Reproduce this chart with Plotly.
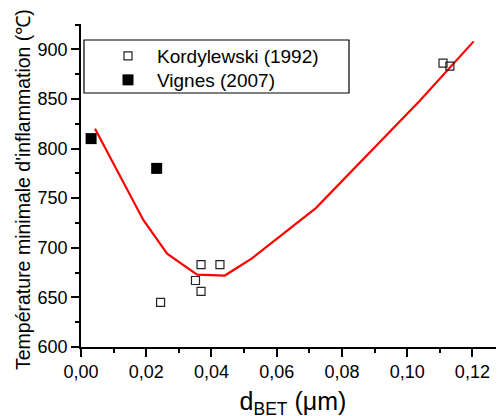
import plotly.graph_objects as go

# Kordylewski (1992) - open squares
kord_x = [0.0244, 0.0351, 0.0368, 0.0368, 0.0426, 0.1110, 0.1131]
kord_y = [645, 667, 683, 656, 683, 886, 883]

# Vignes (2007) - filled squares
vig_x = [0.0031, 0.0232]
vig_y = [810, 780]

# model curve (red line)
model_x = [0.0043, 0.0191, 0.0264, 0.0356, 0.0441, 0.0523, 0.0720, 0.0855, 0.1038, 0.1204]
model_y = [820, 728, 694, 673, 672, 689, 740, 786, 848, 908]

x_tickvals = [0.00, 0.02, 0.04, 0.06, 0.08, 0.10, 0.12]
y_tickvals = [600, 650, 700, 750, 800, 850, 900]

FONT = "Arial, Liberation Sans, sans-serif"

fig = go.Figure()
fig.add_trace(go.Scatter(x=model_x, y=model_y, mode="lines",
                         line=dict(color="#ff0000", width=2.2),
                         showlegend=False, hoverinfo="skip"))
fig.add_trace(go.Scatter(x=kord_x, y=kord_y, mode="markers", name="Kordylewski (1992)",
                         legend="legend",
                         marker=dict(symbol="square-open", size=8, color="#222222",
                                     line=dict(width=1.2, color="#222222"))))
fig.add_trace(go.Scatter(x=vig_x, y=vig_y, mode="markers", name="Vignes (2007)",
                         legend="legend2",
                         marker=dict(symbol="square", size=11, color="black")))

# page has an 8px body margin; coordinates below are in figure pixels
L, R, T, B = 73, 7, 16, 77
W, H = 504, 416
pw = W - L - R
ph = H - T - B

def px2paper_x(px):
    return (px - L) / pw

def px2paper_y(py):
    return (H - B - py) / ph

fig.add_shape(type="rect", xref="paper", yref="paper",
              x0=px2paper_x(76), x1=px2paper_x(341),
              y0=px2paper_y(85), y1=px2paper_y(32),
              line=dict(color="black", width=1.2), fillcolor="rgba(0,0,0,0)")

axis_common = dict(showline=True, linecolor="black", linewidth=1.5,
                   ticks="outside", ticklen=8, tickwidth=1.5, tickcolor="black",
                   showgrid=False, zeroline=False, mirror=False,
                   tickfont=dict(family=FONT, size=18, color="black"))

fig.update_xaxes(range=[0, 0.13], tickvals=x_tickvals, tickformat=".2f",
                 minor=dict(ticks="outside", ticklen=4, tickwidth=1.5, tickcolor="black", dtick=0.01, tick0=0),
                 title=dict(text="d<sub>BET</sub> (\u03bcm)", font=dict(family=FONT, size=25, color="black"), standoff=11),
                 **axis_common)
fig.update_yaxes(range=[600, 925.5], tickvals=y_tickvals,
                 minor=dict(ticks="outside", ticklen=4, tickwidth=1.5, tickcolor="black", dtick=25, tick0=600),
                 **axis_common)

# y-axis title placed precisely
fig.add_annotation(text="Température minimale d'inflammation (\u2103)",
                   xref="paper", yref="paper", x=px2paper_x(15), y=px2paper_y(182),
                   xanchor="center", yanchor="middle", textangle=-90, showarrow=False,
                   font=dict(family=FONT, size=19.5, color="black"))

legend_common = dict(xanchor="left", yanchor="top", bgcolor="rgba(0,0,0,0)", borderwidth=0,
                     itemwidth=48, font=dict(family=FONT, size=19, color="black"))

fig.update_layout(
    width=W, height=H,
    margin=dict(l=L, r=R, t=T, b=B, autoexpand=False),
    paper_bgcolor="white", plot_bgcolor="white",
    separators=", ",
    font=dict(family=FONT, color="black"),
    legend=dict(x=px2paper_x(91), y=px2paper_y(29), **legend_common),
    legend2=dict(x=px2paper_x(91), y=px2paper_y(53), **legend_common),
)

fig.write_html("out.html")
